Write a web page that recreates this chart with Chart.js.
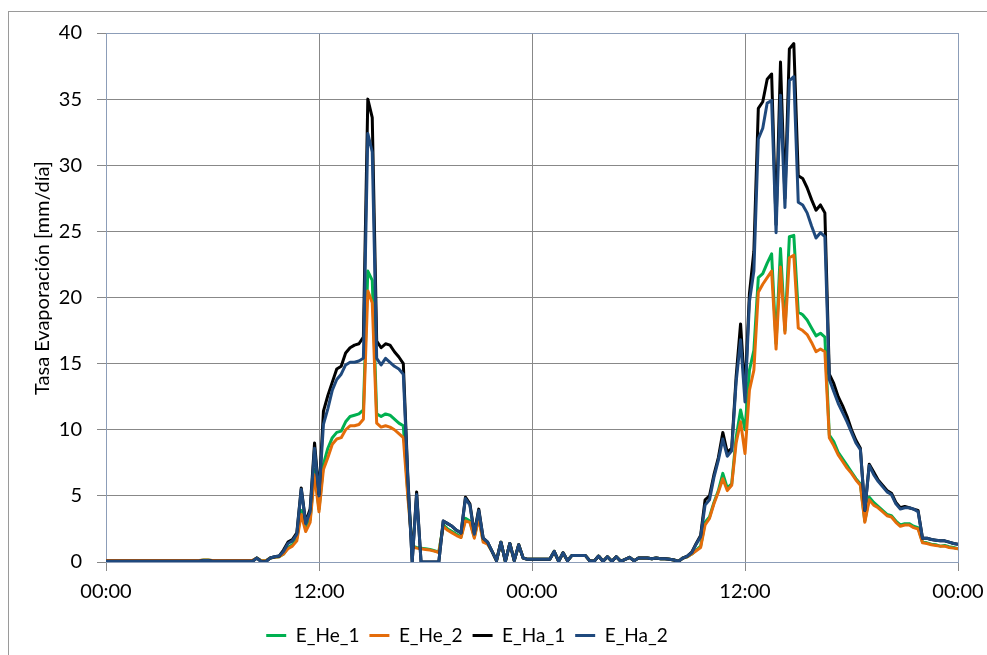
<!DOCTYPE html>
<html>
<head>
<meta charset="utf-8">
<script src="https://cdn.jsdelivr.net/npm/chart.js@4"></script>
<style>
  html, body { margin: 0; padding: 0; background: #fff; }
</style>
</head>
<body>
<canvas id="chart" width="987" height="655"></canvas>
<script>
// 15 minute steps over two days (hours 0..48)
const hours = [];
for (let i = 0; i <= 192; i++) hours.push(i / 4);

const eHe1 = [
  .1,.1,.1,.1,.1,.1,.1,.1,
  .1,.1,.1,.1,.1,.1,.1,.1,
  .1,.1,.1,.1,.1,.1,.15,.15,
  .1,.1,.1,.1,.1,.1,.1,.1,
  .1,.1,.3,.1,.1,.3,.35,.4,
  .6,1.1,1.3,1.8,3.9,2.5,3.2,7.0,
  4.0,7.4,8.6,9.4,9.8,9.9,10.6,11.0,
  11.1,11.2,11.5,22.0,21.3,11.2,11.0,11.2,
  11.1,10.8,10.5,10.3,5.3,1.2,1.1,1.05,
  1.0,.95,.85,.75,2.8,2.5,2.3,2.1,
  1.9,3.3,3.1,1.9,3.4,1.6,1.4,.8,
  .1,1.5,.05,1.4,.1,1.3,.3,.2,
  .2,.2,.2,.2,.2,.8,.05,.7,
  .1,.5,.5,.5,.5,.1,.05,.45,
  .05,.4,.05,.4,.05,.2,.35,.1,
  .3,.3,.3,.25,.3,.25,.25,.2,
  .15,.05,.3,.4,.6,.9,1.2,3.0,
  3.4,4.5,5.4,6.7,5.6,5.9,9.4,11.5,
  10.0,14.5,16.0,21.5,21.8,22.6,23.3,16.5,
  23.7,17.5,24.6,24.7,18.9,18.7,18.3,17.7,
  17.1,17.3,17.0,9.6,9.1,8.3,7.8,7.3,
  6.8,6.3,5.9,3.1,4.9,4.5,4.2,3.9,
  3.6,3.5,3.1,2.8,2.9,2.9,2.7,2.6,
  1.5,1.45,1.35,1.3,1.2,1.25,1.15,1.1,
  1.0
];

const eHe2 = [
  .12,.12,.12,.12,.12,.12,.12,.12,
  .12,.12,.12,.12,.12,.12,.12,.12,
  .12,.12,.12,.12,.12,.12,.15,.15,
  .12,.12,.12,.12,.12,.12,.12,.12,
  .12,.12,.3,.1,.1,.3,.35,.4,
  .6,1.0,1.2,1.6,3.6,2.3,3.0,6.6,
  3.8,7.0,7.9,8.9,9.3,9.4,10.0,10.3,
  10.3,10.4,10.8,20.5,19.6,10.5,10.2,10.3,
  10.2,10.0,9.7,9.4,5.0,1.15,1.05,1.0,
  .95,.9,.82,.72,2.7,2.4,2.2,2.0,
  1.85,3.1,3.0,1.8,3.3,1.5,1.35,.8,
  .1,1.5,.05,1.4,.1,1.3,.3,.2,
  .2,.2,.2,.2,.2,.8,.05,.7,
  .1,.5,.5,.5,.5,.1,.05,.45,
  .05,.4,.05,.4,.05,.2,.35,.1,
  .3,.3,.3,.25,.3,.25,.25,.2,
  .15,.05,.3,.4,.6,.85,1.1,2.8,
  3.3,4.4,5.3,6.3,5.4,5.8,9.0,10.6,
  8.2,13.0,14.5,20.4,21.0,21.5,22.0,16.1,
  22.3,17.3,23.0,23.2,17.7,17.5,17.2,16.6,
  15.9,16.1,15.9,9.4,8.8,8.1,7.6,7.1,
  6.7,6.2,5.8,3.0,4.7,4.3,4.1,3.8,
  3.5,3.4,3.0,2.7,2.8,2.8,2.6,2.5,
  1.45,1.4,1.3,1.25,1.2,1.2,1.1,1.05,
  1.0
];

const eHa1 = [
  .05,.05,.05,.05,.05,.05,.05,.05,
  .05,.05,.05,.05,.05,.05,.05,.05,
  .05,.05,.05,.05,.05,.05,.12,.12,
  .05,.05,.05,.05,.05,.05,.05,.05,
  .05,.05,.3,.02,.02,.3,.4,.45,
  .9,1.5,1.7,2.2,5.6,3.0,4.0,9.0,
  5.1,11.4,12.6,13.6,14.6,14.8,15.8,16.2,
  16.4,16.5,17.0,35.0,33.6,16.7,16.2,16.5,
  16.4,15.9,15.5,15.0,6.6,0,5.3,0,
  0,0,0,0,3.1,2.9,2.7,2.4,
  2.2,4.9,4.4,2.2,4.0,1.8,1.5,.8,
  .1,1.5,.05,1.4,.1,1.3,.3,.2,
  .2,.2,.2,.2,.2,.8,.05,.7,
  .1,.5,.5,.5,.5,.1,.05,.45,
  .05,.4,.05,.4,.05,.2,.35,.1,
  .3,.3,.3,.25,.3,.25,.25,.2,
  .15,.05,.3,.45,.75,1.4,2.0,4.7,
  5.0,6.6,7.9,9.8,8.3,8.6,14.0,18.0,
  12.8,20.3,23.5,34.3,34.8,36.5,36.9,25.5,
  37.8,27.5,38.8,39.2,29.2,29.0,28.3,27.4,
  26.6,27.0,26.4,14.2,13.5,12.5,11.8,11.0,
  10.0,9.2,8.6,3.9,7.4,6.8,6.2,5.8,
  5.4,5.2,4.5,4.1,4.2,4.1,4.0,3.9,
  1.8,1.8,1.7,1.65,1.6,1.6,1.5,1.4,
  1.35
];

const eHa2 = [
  .05,.05,.05,.05,.05,.05,.05,.05,
  .05,.05,.05,.05,.05,.05,.05,.05,
  .05,.05,.05,.05,.05,.05,.12,.12,
  .05,.05,.05,.05,.05,.05,.05,.05,
  .05,.05,.3,.02,.02,.3,.4,.45,
  .8,1.4,1.6,2.1,5.5,2.9,3.8,8.6,
  5.0,10.4,11.6,13.0,13.8,14.2,14.9,15.1,
  15.1,15.2,15.4,32.4,31.0,15.4,14.9,15.4,
  15.1,14.8,14.6,14.2,6.4,0,5.1,0,
  0,0,0,0,3.1,2.9,2.7,2.4,
  2.2,4.8,4.3,2.1,3.9,1.8,1.5,.8,
  .1,1.5,.05,1.4,.1,1.3,.3,.2,
  .2,.2,.2,.2,.2,.8,.05,.7,
  .1,.5,.5,.5,.5,.1,.05,.45,
  .05,.4,.05,.4,.05,.2,.35,.1,
  .3,.3,.3,.25,.3,.25,.25,.2,
  .15,.05,.3,.45,.7,1.35,1.9,4.3,
  4.7,6.4,7.7,9.3,8.0,8.4,13.6,16.8,
  12.1,19.7,22.0,32.0,32.8,34.7,34.9,24.9,
  35.3,26.8,36.4,36.7,27.2,27.0,26.4,25.4,
  24.5,24.9,24.6,13.8,12.9,12.0,11.3,10.6,
  9.8,9.0,8.5,3.9,7.3,6.6,6.1,5.7,
  5.3,5.1,4.4,4.0,4.1,4.1,4.0,3.8,
  1.8,1.8,1.7,1.65,1.6,1.6,1.5,1.4,
  1.35
];

const gridCol = '#888888';
const edgeCol = '#8c9db8';
const tickFont = { family: 'Lato', size: 20 };

function pts(vals) {
  return vals.map((v, i) => ({ x: hours[i], y: v }));
}

function serie(label, vals, color, order) {
  return {
    label: label,
    data: pts(vals),
    borderColor: color,
    backgroundColor: color,
    borderWidth: 3,
    pointRadius: 0,
    tension: 0,
    fill: false,
    borderJoinStyle: 'round',
    order: order
  };
}

// outer frame of the chart area
const frame = {
  id: 'frame',
  beforeDraw(chart) {
    const ctx = chart.ctx;
    ctx.save();
    ctx.strokeStyle = '#9a9a9a';
    ctx.lineWidth = 1;
    ctx.strokeRect(8.5, 11.5, 1000, 700);
    ctx.restore();
  }
};

// y title, placed like the original
const yTitle = {
  id: 'yTitle',
  afterDraw(chart) {
    const ctx = chart.ctx;
    ctx.save();
    ctx.translate(43, 278);
    ctx.rotate(-Math.PI / 2);
    ctx.font = '20px Lato';
    ctx.fillStyle = '#000';
    ctx.textAlign = 'center';
    ctx.textBaseline = 'middle';
    ctx.fillText('Tasa Evaporación [mm/día]', 0, 0);
    ctx.restore();
  }
};

// legend is centred a bit left of the page centre
const legendShift = {
  id: 'legendShift',
  afterLayout(chart) {
    const lg = chart.legend;
    const dx = 467 - (lg.left + lg.right) / 2;
    lg.left += dx;
    lg.right += dx;
  }
};

const chart = new Chart(document.getElementById('chart'), {
  type: 'line',
  data: {
    datasets: [
      serie('E_He_1', eHe1, '#00b050', 4),
      serie('E_He_2', eHe2, '#e46c0a', 3),
      serie('E_Ha_1', eHa1, '#000000', 2),
      serie('E_Ha_2', eHa2, '#1f497d', 1)
    ]
  },
  plugins: [frame, yTitle, legendShift],
  options: {
    responsive: false,
    animation: false,
    layout: { padding: { left: 0, top: 33, right: 29, bottom: 0 } },
    plugins: {
      legend: {
        position: 'bottom',
        labels: {
          usePointStyle: true,
          pointStyle: 'line',
          pointStyleWidth: 20,
          font: { family: 'Lato', size: 19 },
          color: '#000',
          padding: 10,
          sort: (a, b) => a.datasetIndex - b.datasetIndex
        }
      },
      tooltip: { enabled: false }
    },
    scales: {
      x: {
        type: 'linear',
        min: 0,
        max: 48,
        ticks: {
          stepSize: 12,
          maxRotation: 0,
          padding: 9,
          font: tickFont,
          color: '#000',
          callback: v => (v % 24 === 0 ? '00:00' : '12:00')
        },
        grid: {
          color: c => (c.tick && c.tick.value === 48 ? edgeCol : gridCol),
          tickColor: gridCol,
          tickLength: 9
        },
        border: { color: edgeCol },
        afterFit: s => {
          s.height = 54;
          s.paddingLeft = 0;
          s.paddingRight = 0;
        }
      },
      y: {
        min: 0,
        max: 40,
        ticks: {
          stepSize: 5,
          padding: 15,
          font: tickFont,
          color: '#000'
        },
        grid: {
          color: c => (c.tick && c.tick.value === 40 ? edgeCol : gridCol),
          tickColor: gridCol,
          tickLength: 9
        },
        border: { color: edgeCol },
        afterFit: s => { s.width = 106; }
      }
    }
  }
});
</script>
</body>
</html>
